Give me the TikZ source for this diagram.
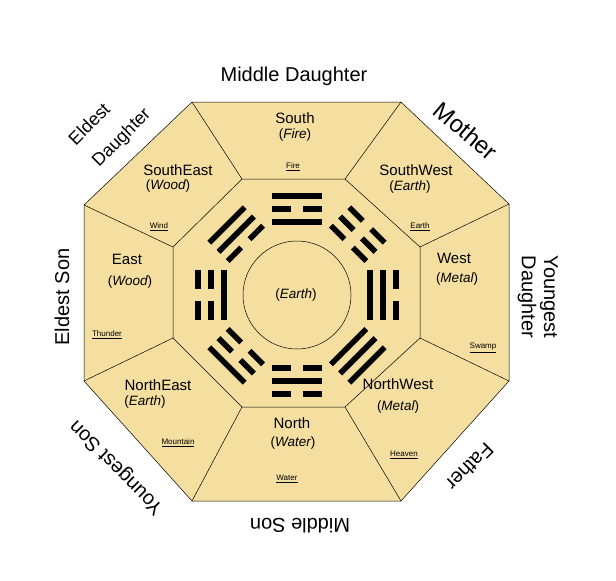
\documentclass[tikz,border=0pt]{standalone}
\usepackage{fontspec}
\setmainfont{Liberation Sans}
\begin{document}
\begin{tikzpicture}[x=1pt,y=-1pt,
  big/.style={font=\fontsize{15}{17}\selectfont, inner sep=0pt},
  elem/.style={font=\fontsize{13.5}{15}\selectfont\itshape, inner sep=0pt},
  tiny/.style={font=\fontsize{8}{9}\selectfont, inner sep=0pt},
  outer/.style={font=\fontsize{20}{22}\selectfont, inner sep=0pt, align=center},
  edge/.style={draw=black, line width=0.5pt}]
\useasboundingbox (0,0) rectangle (616,581);
\definecolor{bagua}{RGB}{244,223,160}
% outer vertices
\coordinate (o1) at (192,102); \coordinate (o2) at (401,102);
\coordinate (o3) at (509,204); \coordinate (o4) at (509,381);
\coordinate (o5) at (401,501); \coordinate (o6) at (192,501);
\coordinate (o7) at (84,381);  \coordinate (o8) at (84,205);
% inner vertices
\coordinate (i1) at (242,179); \coordinate (i2) at (345,179);
\coordinate (i3) at (420,247); \coordinate (i4) at (420,338);
\coordinate (i5) at (345,407); \coordinate (i6) at (242,407);
\coordinate (i7) at (173,338); \coordinate (i8) at (173,247);
\filldraw[fill=bagua, edge] (o1)--(o2)--(o3)--(o4)--(o5)--(o6)--(o7)--(o8)--cycle;
\draw[edge] (i1)--(i2)--(i3)--(i4)--(i5)--(i6)--(i7)--(i8)--cycle;
\foreach \k in {1,...,8} \draw[edge] (i\k)--(o\k);
\node[draw, circle, minimum size=108pt, inner sep=0pt, line width=0.5pt] (c) at (297,295) {};
\node[elem] (ce) at (296,295) {\upshape(\itshape Earth\upshape)};
% trigrams (inner, middle, outer line; 1 = solid)
\foreach \a/\p/\q/\r in {90/1/0/1, 45/0/0/0, 0/1/1/0, -45/1/1/1, -90/0/1/0, -135/0/0/1, 180/1/0/0, 135/0/1/1}{
  \begin{scope}[shift={(297,295)}, rotate=\a-90, x=1pt, y=1pt]
    \foreach \rr/\ty in {73/\p, 86/\q, 99/\r}{
      \ifnum\ty=1
        \fill (-25,\rr-2.8) rectangle (25,\rr+2.8);
      \else
        \fill (-25,\rr-2.8) rectangle (-6,\rr+2.8);
        \fill (6,\rr-2.8) rectangle (25,\rr+2.8);
      \fi
    }
  \end{scope}
}
% region labels
\node[big] (s) at (295,118) {South};
\node[elem] (se2) at (295,135) {\upshape(\itshape Fire\upshape)};
\node[tiny] (sl) at (293,167) {\underline{Fire}};
\node[big] (se) at (178,170) {SouthEast};
\node[elem] (see) at (168,186) {\upshape(\itshape Wood\upshape)};
\node[tiny] (sel) at (159,227) {\underline{Wind}};
\node[big] (e) at (127,259) {East};
\node[elem] (ee) at (130,282) {\upshape(\itshape Wood\upshape)};
\node[tiny] (el) at (107,335) {\underline{Thunder}};
\node[big] (ne) at (158,385) {NorthEast};
\node[elem] (nee) at (145,402) {\upshape(\itshape Earth\upshape)};
\node[tiny] (nel) at (178,443) {\underline{Mountain}};
\node[big] (n) at (292,423) {North};
\node[elem] (ne2) at (293,443) {\upshape(\itshape Water\upshape)};
\node[tiny] (nl) at (287,479) {\underline{Water}};
\node[big] (nw) at (398,384) {NorthWest};
\node[elem] (nwe) at (398,407) {\upshape(\itshape Metal\upshape)};
\node[tiny] (nwl) at (404,455) {\underline{Heaven}};
\node[big] (w) at (454,258) {West};
\node[elem] (we) at (457,279) {\upshape(\itshape Metal\upshape)};
\node[tiny] (wl) at (483,348) {\underline{Swamp}};
\node[big] (sw) at (416,170) {SouthWest};
\node[elem] (swe) at (410,187) {\upshape(\itshape Earth\upshape)};
\node[tiny] (swl) at (420,227) {\underline{Earth}};
% family labels
\node[outer] (md) at (294,76) {Middle Daughter};
\node[outer, font=\fontsize{24}{26}\selectfont, rotate=-40] (mo) at (466,131) {Mother};
\node[outer, rotate=-90] (yd1) at (549,297) {Youngest};
\node[outer, rotate=-90] (yd2) at (527,297) {Daughter};
\node[outer, rotate=-135] (fa) at (470,467) {Father};
\node[outer, rotate=180] (ms) at (300,526) {Middle Son};
\node[outer, rotate=135] (ys) at (117,467) {Youngest Son};
\node[outer, rotate=90] (es) at (62,297) {Eldest Son};
\node[outer, font=\fontsize{18}{20}\selectfont, rotate=45] (ed1) at (89,124) {Eldest};
\node[outer, font=\fontsize{18}{20}\selectfont, rotate=45] (ed2) at (122,138) {Daughter};
\end{tikzpicture}
\end{document}
